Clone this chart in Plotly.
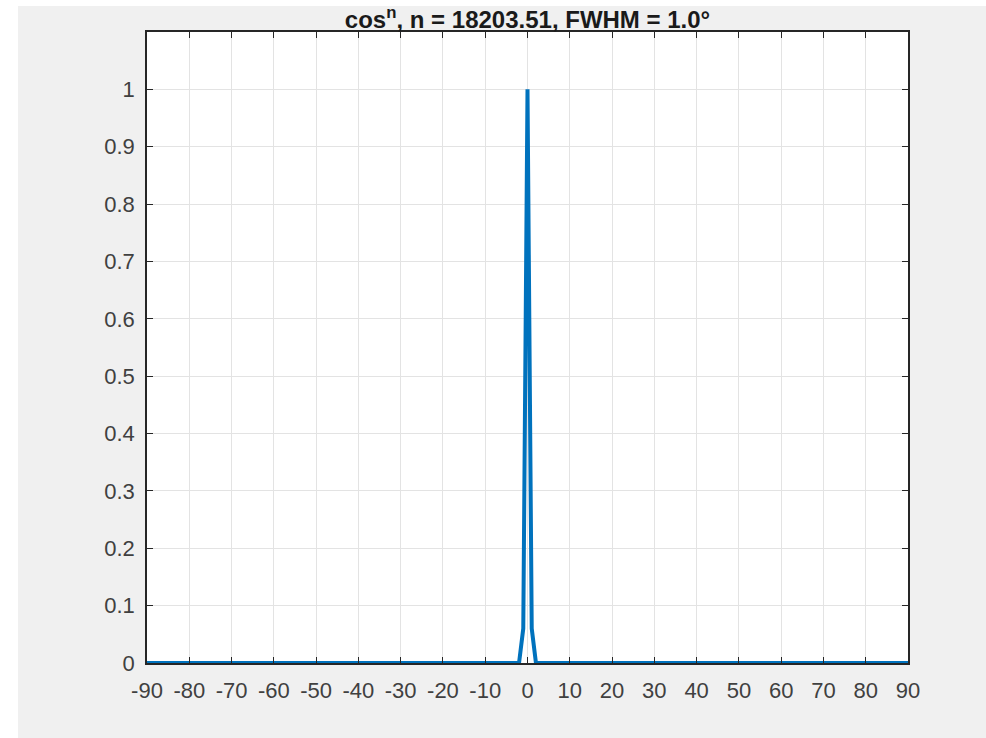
import plotly.graph_objects as go

# Data (angle in degrees, normalized intensity)
angle_deg = [-90, -2, -1, 0, 1, 2, 90]
intensity = [0.0, 0.0, 0.06, 1.0, 0.06, 0.0, 0.0]

x_ticks = list(range(-90, 91, 10))
y_ticks = [0, 0.1, 0.2, 0.3, 0.4, 0.5, 0.6, 0.7, 0.8, 0.9, 1]
y_labels = ["0", "0.1", "0.2", "0.3", "0.4", "0.5", "0.6", "0.7", "0.8", "0.9", "1"]
title_text = "cos<sup>n</sup>, n = 18203.51, FWHM = 1.0°"

W, H = 986, 738
L, R, T, B = 147, 908, 32, 663
pw, ph = R - L, B - T

def px(x):
    return (x - L) / pw

def py(y):
    return (B - y) / ph

FONT = "Liberation Sans, Arial, sans-serif"

fig = go.Figure()
fig.add_trace(go.Scatter(
    x=angle_deg, y=intensity, mode="lines",
    line=dict(color="#0072BD", width=4),
    showlegend=False, hoverinfo="skip",
))

axis_common = dict(
    showline=True, linecolor="#262626", linewidth=1.5, mirror="ticks",
    ticks="inside", ticklen=6, tickwidth=1, tickcolor="#262626",
    showgrid=True, gridcolor="#e3e3e3", gridwidth=1, zeroline=False,
    tickfont=dict(family=FONT, size=22, color="#404040"),
)

fig.update_layout(
    width=W, height=H,
    margin=dict(l=L, r=W - R, t=T, b=H - B),
    paper_bgcolor="white", plot_bgcolor="white",
    title=dict(
        text=title_text, x=0.5, xref="paper",
        y=1 - 20 / H, yref="container", yanchor="middle",
        font=dict(family=FONT, size=24, color="#1a1a1a", weight="bold"),
    ),
    xaxis=dict(range=[-90, 90], tickvals=x_ticks, ticktext=[str(v) for v in x_ticks],
               ticklabelstandoff=7, **axis_common),
    yaxis=dict(range=[0, 1.1], tickvals=y_ticks, ticktext=y_labels,
               ticklabelstandoff=6, **axis_common),
    shapes=[
        dict(type="rect", xref="paper", yref="paper", x0=px(18), x1=px(986), y0=py(738), y1=py(6),
             fillcolor="#f0f0f0", line=dict(width=0), layer="below"),
        dict(type="rect", xref="paper", yref="paper", x0=0, x1=1, y0=0, y1=1,
             fillcolor="white", line=dict(width=0), layer="below"),
    ],
)

fig.write_html("out.html")
